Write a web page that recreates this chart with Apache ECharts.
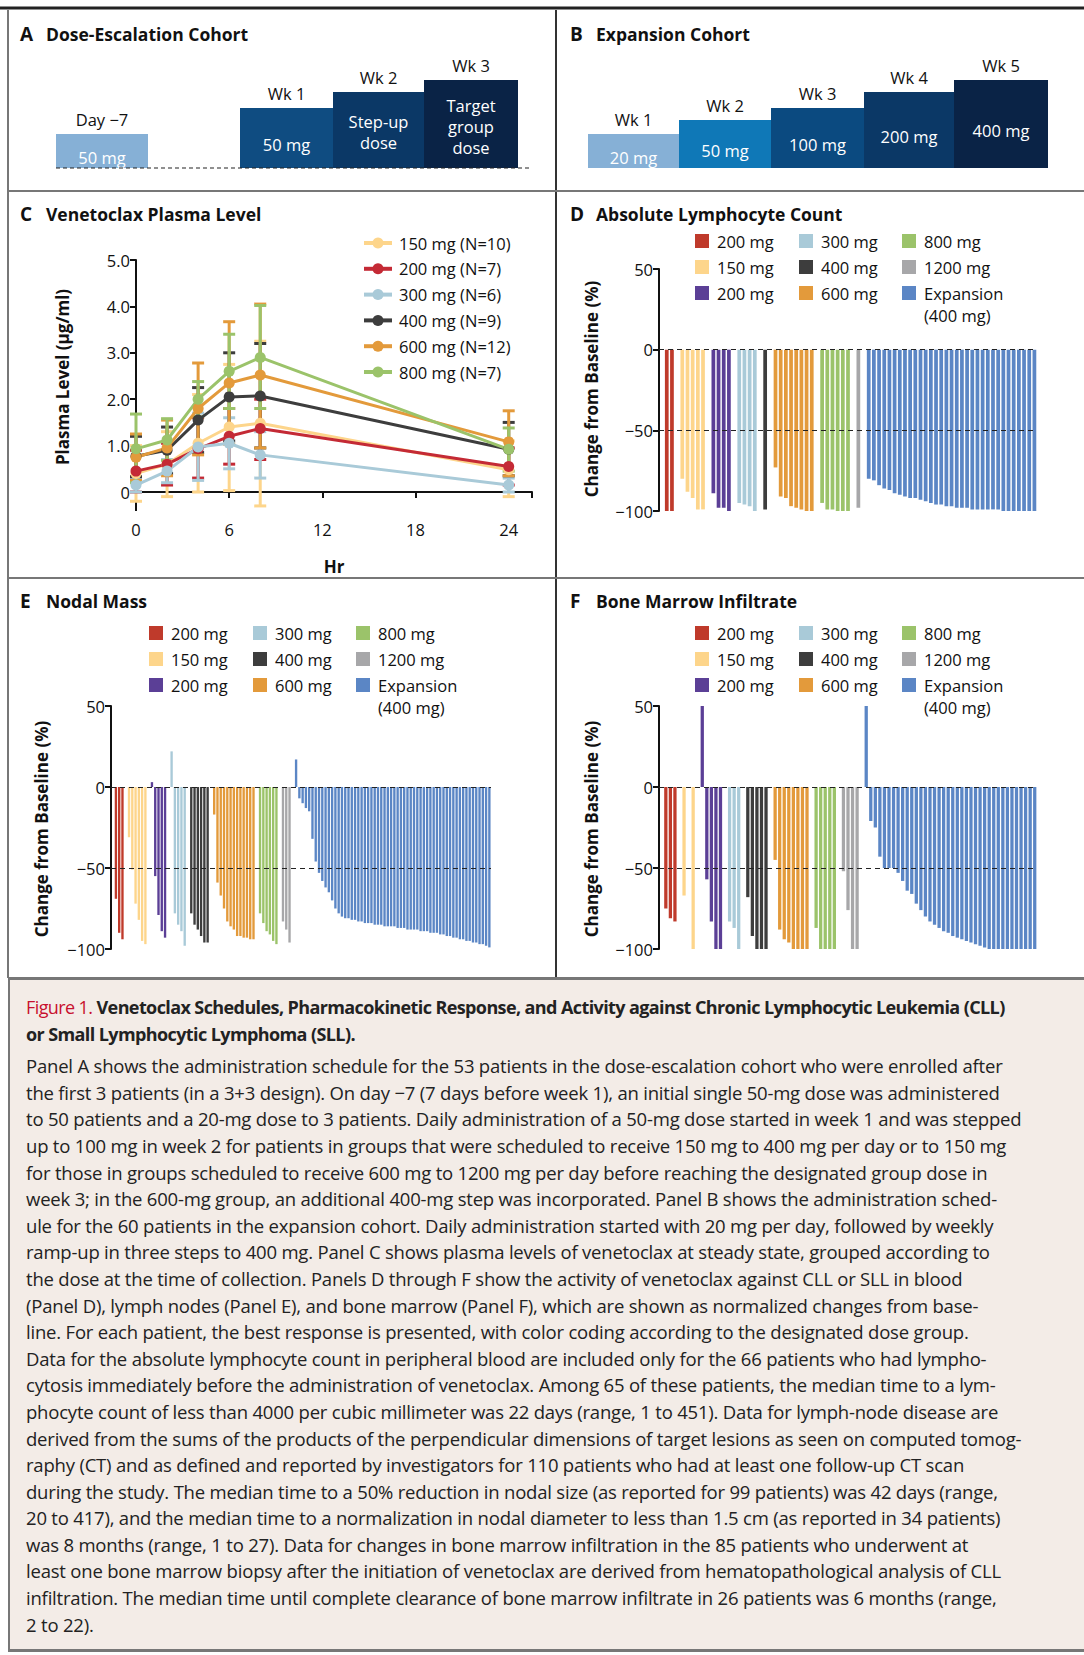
<!DOCTYPE html>
<html>
<head>
<meta charset="utf-8">
<script src="https://cdn.jsdelivr.net/npm/echarts@6/dist/echarts.min.js"></script>
<style>
  body { margin: 0; background: #fff; }
  #container { position: absolute; left: 0; top: 0; width: 1084px; height: 978px; }
  #caption { position: absolute; left: 8px; top: 977px; width: 1076px; height: 675px;
    background: #f3ece7; border-top: 3px solid #777; border-left: 2px solid #777; border-bottom: 3px solid #777;
    box-sizing: border-box; font-family: "Open Sans", sans-serif; color: #222;
    padding: 14px 0 0 16px; font-size: 18.5px; line-height: 26.6px; letter-spacing: -0.2px; }
  #caption .t { font-weight: bold; letter-spacing: -0.6px; font-size: 18px; }
  #caption .t span { color: #c8102e; font-weight: normal; }
  #caption div { white-space: nowrap; }
  #caption .b { margin-top: 6px; }
</style>
</head>
<body>
<div id="container"></div>
<div id="caption">
  <div class="t"><span>Figure 1.</span> Venetoclax Schedules, Pharmacokinetic Response, and Activity against Chronic Lymphocytic Leukemia (CLL)</div>
  <div class="t">or Small Lymphocytic Lymphoma (SLL).</div>
  <div class="b">Panel A shows the administration schedule for the 53 patients in the dose-escalation cohort who were enrolled after</div>
  <div>the first 3 patients (in a 3+3 design). On day −7 (7 days before week 1), an initial single 50-mg dose was administered</div>
  <div>to 50 patients and a 20-mg dose to 3 patients. Daily administration of a 50-mg dose started in week 1 and was stepped</div>
  <div>up to 100 mg in week 2 for patients in groups that were scheduled to receive 150 mg to 400 mg per day or to 150 mg</div>
  <div>for those in groups scheduled to receive 600 mg to 1200 mg per day before reaching the designated group dose in</div>
  <div>week 3; in the 600-mg group, an additional 400-mg step was incorporated. Panel B shows the administration sched-</div>
  <div>ule for the 60 patients in the expansion cohort. Daily administration started with 20 mg per day, followed by weekly</div>
  <div>ramp-up in three steps to 400 mg. Panel C shows plasma levels of venetoclax at steady state, grouped according to</div>
  <div>the dose at the time of collection. Panels D through F show the activity of venetoclax against CLL or SLL in blood</div>
  <div>(Panel D), lymph nodes (Panel E), and bone marrow (Panel F), which are shown as normalized changes from base-</div>
  <div>line. For each patient, the best response is presented, with color coding according to the designated dose group.</div>
  <div>Data for the absolute lymphocyte count in peripheral blood are included only for the 66 patients who had lympho-</div>
  <div>cytosis immediately before the administration of venetoclax. Among 65 of these patients, the median time to a lym-</div>
  <div>phocyte count of less than 4000 per cubic millimeter was 22 days (range, 1 to 451). Data for lymph-node disease are</div>
  <div>derived from the sums of the products of the perpendicular dimensions of target lesions as seen on computed tomog-</div>
  <div>raphy (CT) and as defined and reported by investigators for 110 patients who had at least one follow-up CT scan</div>
  <div>during the study. The median time to a 50% reduction in nodal size (as reported for 99 patients) was 42 days (range,</div>
  <div>20 to 417), and the median time to a normalization in nodal diameter to less than 1.5 cm (as reported in 34 patients)</div>
  <div>was 8 months (range, 1 to 27). Data for changes in bone marrow infiltration in the 85 patients who underwent at</div>
  <div>least one bone marrow biopsy after the initiation of venetoclax are derived from hematopathological analysis of CLL</div>
  <div>infiltration. The median time until complete clearance of bone marrow infiltrate in 26 patients was 6 months (range,</div>
  <div>2 to 22).</div>
</div>
<script>
// ---- data ----
var hours = [0, 2, 4, 6, 8, 24];
var pkNames = ["150 mg (N=10)", "200 mg (N=7)", "300 mg (N=6)", "400 mg (N=9)", "600 mg (N=12)", "800 mg (N=7)"];
var pkColors = ["#fdd58b", "#c42a35", "#a9cad8", "#3d3d3d", "#e39a3b", "#9bc36a"];
var pkMean = [
  [0.40, 0.60, 1.05, 1.40, 1.48, 0.48],
  [0.45, 0.60, 0.93, 1.20, 1.37, 0.55],
  [0.15, 0.45, 0.97, 1.05, 0.80, 0.15],
  [0.77, 0.90, 1.55, 2.05, 2.07, 0.92],
  [0.75, 0.95, 1.80, 2.35, 2.52, 1.08],
  [0.93, 1.12, 2.00, 2.60, 2.90, 0.92]
];
var pkLow = [
  [-0.20, -0.10, 0.00, 0.03, -0.30, -0.10],
  [0.00, 0.15, 0.30, 0.60, 0.70, 0.15],
  [0.00, 0.20, 0.25, 0.50, 0.30, 0.00],
  [0.33, 0.40, 0.85, 1.10, 0.95, 0.35],
  [0.25, 0.35, 0.80, 1.03, 0.95, 0.35],
  [0.20, 0.68, 1.62, 1.80, 1.80, 0.45]
];
var pkHigh = [
  [1.00, 1.30, 2.10, 2.75, 3.25, 1.10],
  [0.90, 1.05, 1.60, 1.80, 2.00, 0.95],
  [0.30, 0.70, 1.70, 1.60, 1.30, 0.30],
  [1.20, 1.40, 2.25, 3.00, 3.20, 1.50],
  [1.25, 1.55, 2.78, 3.67, 4.05, 1.75],
  [1.68, 1.58, 2.38, 3.40, 4.02, 1.38]
];
var pkYTicks = [0, 1, 2, 3, 4, 5];
var pkXTicks = [0, 6, 12, 18, 24];

var groupNames = ["200 mg", "150 mg", "200 mg", "300 mg", "400 mg", "600 mg", "800 mg", "1200 mg", "Expansion\n(400 mg)"];
var groupColors = ["#bf3a2b", "#fdd58b", "#5b3f96", "#a9cad8", "#3d3d3d", "#e39a3b", "#9bc36a", "#a7a7a9", "#5b86c5"];
// order of bars: red 200, yellow 150, purple 200, light blue 300, dark 400, orange 600, green 800, gray 1200, blue expansion
var lymphocyte = [
  [-100, -100],
  [-80, -88, -92, -99, -99],
  [-89, -98, -98, -100],
  [-95, -96, -97, -100],
  [-99],
  [-73, -91, -92, -97, -98, -99, -100, -100],
  [-95, -99, -99, -100, -100, -100],
  [-98],
  [-80, -81, -84, -86, -87, -89, -90, -91, -92, -92, -93, -94, -95, -96, -96, -97, -97, -98, -98, -98,
   -99, -99, -99, -99, -99, -99, -100, -100, -100, -100, -100, -100, -100]
];
var nodalMass = [
  [-69, -90, -94],
  [-31, -51, -72, -82, -95, -97],
  [3, -55, -79, -89, -93],
  [22, -78, -85, -89, -98],
  [-78, -85, -88, -92, -96, -96],
  [-17, -59, -67, -75, -83, -86, -88, -92, -92, -93, -93, -94, -94],
  [-78, -84, -89, -91, -95, -97],
  [-83, -88, -96],
  [17, -7, -10, -13, -15, -32, -46, -53, -58, -62, -65, -70, -75, -78, -80, -81, -81, -82, -82, -83,
   -83, -84, -84, -84, -85, -85, -85, -86, -86, -86, -86, -87, -87, -87, -88, -88, -88, -88, -89, -89,
   -89, -90, -90, -90, -91, -91, -92, -92, -93, -93, -94, -94, -95, -95, -96, -96, -97, -97, -98, -99]
];
var boneMarrow = [
  [-75, -81, -83],
  [-67, 0, -100],
  [50, -57, -83, -100, -100],
  [-83, -87, -100],
  [-68, -92, -100, -100, -100],
  [-45, -88, -94, -96, -100, -100, -100, -100],
  [-87, -100, -100, -100, -100],
  [-52, -76, -100, -100],
  [50, -21, -25, -43, -50, -50, -50, -53, -58, -64, -66, -72, -76, -80, -83, -85, -87, -89, -90, -92,
   -93, -94, -95, -96, -97, -98, -99, -100, -100, -100, -100, -100, -100, -100, -100, -100, -100, -100]
];
var changeTicks = [50, 0, -50, -100];

// ---- chart ----
var dom = document.getElementById("container");
var myChart = echarts.init(dom, null, { renderer: "svg" });
var FONT = "Open Sans";

function slots(groups) {
  var cats = [], data = [];
  function gap() { cats.push("g" + cats.length); data.push(null); }
  gap();
  groups.forEach(function (g, gi) {
    if (gi > 0) gap();
    g.forEach(function (v) {
      cats.push("b" + cats.length);
      data.push({ value: v, itemStyle: { color: groupColors[gi] } });
    });
  });
  return { cats: cats, data: data };
}

function minus(v) { return String(v).replace("-", "\u2212"); }

var graphics = [];
function line(x1, y1, x2, y2, w, c) {
  graphics.push({ type: "line", shape: { x1: x1, y1: y1, x2: x2, y2: y2 }, style: { stroke: c, lineWidth: w }, silent: true });
}
function text(x, y, s, opt) {
  graphics.push({ type: "text", x: x, y: y, style: Object.assign({ text: s, fontFamily: FONT, fontSize: 16.5, fill: "#111", textVerticalAlign: "middle" }, opt || {}) });
}
function rect(x, y, w, h, c) {
  graphics.push({ type: "rect", shape: { x: x, y: y, width: w, height: h }, style: { fill: c } });
}
function title(x, y, letter, s) {
  text(x, y, letter, { fontSize: 19, fontWeight: "bold" });
  text(x + 26, y, s, { fontSize: 17.5, fontWeight: "bold" });
}

// borders
line(0, 8, 1084, 8, 3, "#222");
line(8, 10, 8, 978, 2, "#777");
line(556, 10, 556, 978, 2, "#333");
line(8, 191, 1084, 191, 2, "#777");
line(8, 578, 1084, 578, 2, "#777");

// Panel A schedule
title(20, 34, "A", "Dose-Escalation Cohort");
var aBoxes = [[56, 148, 134, "#86b0d6", "Day \u22127", ["50 mg"]], [240, 333, 108, "#0f4c81", "Wk 1", ["50 mg"]],
  [333, 424, 92, "#0b3866", "Wk 2", ["Step-up", "dose"]], [424, 518, 80, "#0a2346", "Wk 3", ["Target", "group", "dose"]]];
var bBoxes = [[588, 679, 134, "#86b0d6", "Wk 1", ["20 mg"]], [679, 771, 120, "#0f78b7", "Wk 2", ["50 mg"]],
  [771, 864, 108, "#0b4a80", "Wk 3", ["100 mg"]], [864, 954, 92, "#0b3866", "Wk 4", ["200 mg"]],
  [954, 1048, 80, "#0a2346", "Wk 5", ["400 mg"]]];
function drawBoxes(boxes, baseY) {
  boxes.forEach(function (b) {
    rect(b[0], b[2], b[1] - b[0], baseY - b[2], b[3]);
    var cx = (b[0] + b[1]) / 2;
    text(cx, b[2] - 15, b[4], { textAlign: "center" });
    var n = b[5].length, lh = 21;
    var cy = n === 1 ? (b[2] + baseY) / 2 + 6 : (b[2] + baseY) / 2 + 2;
    b[5].forEach(function (s, i) {
      text(cx, cy + (i - (n - 1) / 2) * lh, s, { textAlign: "center", fill: "#fff" });
    });
  });
}
drawBoxes(aBoxes, 168);
drawBoxes(bBoxes, 168);
graphics.push({ type: "line", shape: { x1: 56, y1: 168, x2: 531, y2: 168 }, style: { stroke: "#222", lineWidth: 1.2, lineDash: [4, 3] } });
title(570, 34, "B", "Expansion Cohort");

// Panel C..F titles
title(20, 214, "C", "Venetoclax Plasma Level");
title(570, 214, "D", "Absolute Lymphocyte Count");
title(20, 601, "E", "Nodal Mass");
title(570, 601, "F", "Bone Marrow Infiltrate");

// PK legend
pkNames.forEach(function (n, i) {
  var y = 243 + i * 25.8;
  line(364, y, 392, y, 4, pkColors[i]);
  graphics.push({ type: "circle", shape: { cx: 378, cy: y, r: 5.5 }, style: { fill: pkColors[i] } });
  text(399, y, n);
});

// bar legends
function barLegend(x0, y0) {
  var cols = [x0, x0 + 104, x0 + 207];
  groupNames.forEach(function (n, i) {
    var c = Math.floor(i / 3), r = i % 3;
    var y = y0 + r * 26;
    rect(cols[c], y - 7, 14, 14, groupColors[i]);
    n.split("\n").forEach(function (p, k) {
      text(cols[c] + 22, y + k * 22, p);
    });
  });
}
barLegend(695, 241);
barLegend(149, 633);
barLegend(695, 633);

// y-axis titles
function vtitle(x, y, s) {
  graphics.push({ type: "text", x: x, y: y, rotation: Math.PI / 2,
    style: { text: s, fontFamily: FONT, fontSize: 17, fontWeight: "bold", fill: "#111", textAlign: "center", textVerticalAlign: "middle" } });
}
vtitle(62, 377, "Plasma Level (\u00b5g/ml)");
vtitle(591, 389, "Change from Baseline (%)");
vtitle(41, 829, "Change from Baseline (%)");
vtitle(591, 829, "Change from Baseline (%)");
text(334, 566, "Hr", { fontSize: 17, fontWeight: "bold", textAlign: "center" });

var sD = slots(lymphocyte), sE = slots(nodalMass), sF = slots(boneMarrow);
var grids = [
  { left: 136, right: 552, top: 260, bottom: 486 },
  { left: 659, right: 47, top: 269, bottom: 467 },
  { left: 111, right: 593, top: 706, bottom: 29 },
  { left: 659, right: 47, top: 706, bottom: 29 }
];
var axisLbl = { fontFamily: FONT, fontSize: 16.5, color: "#111" };
var axisLn = { show: true, lineStyle: { color: "#111", width: 2 } };

function catAxis(i, cats) {
  return { type: "category", gridIndex: i, data: cats, axisLine: { show: false }, axisTick: { show: false }, axisLabel: { show: false } };
}
function changeAxis(i) {
  return { type: "value", gridIndex: i, min: -100, max: 50, interval: 50, axisLine: axisLn,
    axisTick: { show: true, length: 6, lineStyle: { color: "#111", width: 2 } }, splitLine: { show: false },
    axisLabel: Object.assign({ margin: 6, formatter: function (v) { return changeTicks.indexOf(v) >= 0 ? minus(v) : ""; } }, axisLbl) };
}
var dashLines = {
  silent: true, symbol: "none", label: { show: false },
  lineStyle: { color: "#222", type: [5, 4], width: 1.2 },
  data: [{ yAxis: 0 }, { yAxis: -50 }]
};
function barSeries(i, s) {
  return { type: "bar", xAxisIndex: i, yAxisIndex: i, data: s.data, barCategoryGap: "28%", markLine: dashLines, animation: false };
}

var series = [];
pkNames.forEach(function (n, k) {
  series.push({
    type: "custom", xAxisIndex: 0, yAxisIndex: 0, z: 2,
    data: hours.map(function (h, j) { return [h, pkLow[k][j], pkHigh[k][j]]; }),
    renderItem: function (params, api) {
      var lo = api.coord([api.value(0), api.value(1)]);
      var hi = api.coord([api.value(0), api.value(2)]);
      var st = { stroke: pkColors[k], lineWidth: 3 };
      return { type: "group", children: [
        { type: "line", shape: { x1: lo[0], y1: lo[1], x2: hi[0], y2: hi[1] }, style: st },
        { type: "line", shape: { x1: lo[0] - 6, y1: lo[1], x2: lo[0] + 6, y2: lo[1] }, style: st },
        { type: "line", shape: { x1: hi[0] - 6, y1: hi[1], x2: hi[0] + 6, y2: hi[1] }, style: st }
      ] };
    },
    animation: false
  });
  series.push({
    type: "line", name: n, xAxisIndex: 0, yAxisIndex: 0, z: 3,
    data: hours.map(function (h, j) { return [h, pkMean[k][j]]; }),
    symbol: "circle", symbolSize: 11, color: pkColors[k], lineStyle: { width: 3 }, animation: false
  });
});
series.push(barSeries(1, sD), barSeries(2, sE), barSeries(3, sF));

// extend PK y-axis line down to the offset x axis
line(136, 260, 136, 511, 2, "#111");

var option = {
  grid: grids,
  xAxis: [
    { type: "value", gridIndex: 0, min: 0, max: 25.5, interval: 6, offset: 19, axisLine: axisLn,
      axisTick: { show: true, length: 6, lineStyle: { color: "#111", width: 2 } }, splitLine: { show: false },
      axisLabel: Object.assign({ margin: 10, formatter: function (v) { return pkXTicks.indexOf(v) >= 0 ? String(v) : ""; } }, axisLbl) },
    catAxis(1, sD.cats), catAxis(2, sE.cats), catAxis(3, sF.cats)
  ],
  yAxis: [
    { type: "value", gridIndex: 0, min: 0, max: 5, interval: 1, axisLine: axisLn,
      axisTick: { show: true, length: 6, lineStyle: { color: "#111", width: 2 } }, splitLine: { show: false },
      axisLabel: Object.assign({ margin: 6, formatter: function (v) { return pkYTicks.indexOf(v) < 0 ? "" : (v === 0 ? "0" : v.toFixed(1)); } }, axisLbl) },
    changeAxis(1), changeAxis(2), changeAxis(3)
  ],
  graphic: graphics,
  series: series
};
if (option && typeof option === "object") {
  myChart.setOption(option);
}
window.addEventListener("resize", myChart.resize);
</script>
</body>
</html>
